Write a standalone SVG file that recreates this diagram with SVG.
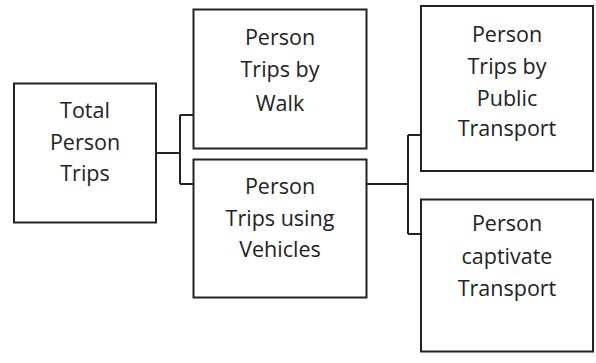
<svg xmlns="http://www.w3.org/2000/svg" width="596" height="363" viewBox="0 0 596 363">
<style>
.box{fill:#fff;stroke:#222;stroke-width:2}
.lbl{font-family:"Open Sans","Noto Sans",sans-serif;font-size:21.5px;fill:#222;text-anchor:middle}
.con{fill:none;stroke:#222;stroke-width:2}
</style>
<rect width="596" height="363" fill="#fff"/>
<g id="connectors">
<path class="con" d="M156,153 H180 M180,115 V184 M180,115 H193 M180,184 H193"/>
<path class="con" d="M367,184 H408 M408,135 V234 M408,135 H421 M408,234 H421"/>
</g>
<g id="total">
<rect class="box" x="14" y="83.5" width="142" height="139"/>
<text class="lbl" x="85" y="118">Total</text>
<text class="lbl" x="85" y="150">Person</text>
<text class="lbl" x="85" y="181">Trips</text>
</g>
<g id="walk">
<rect class="box" x="193.5" y="9.5" width="173" height="139"/>
<text class="lbl" x="280" y="45">Person</text>
<text class="lbl" x="280" y="77">Trips by</text>
<text class="lbl" x="280" y="111">Walk</text>
</g>
<g id="vehicles">
<rect class="box" x="193.5" y="159.5" width="173" height="138"/>
<text class="lbl" x="280" y="194">Person</text>
<text class="lbl" x="280" y="226">Trips using</text>
<text class="lbl" x="280" y="257">Vehicles</text>
</g>
<g id="public">
<rect class="box" x="421" y="6" width="172" height="165"/>
<text class="lbl" x="507" y="42">Person</text>
<text class="lbl" x="507" y="74">Trips by</text>
<text class="lbl" x="507" y="106">Public</text>
<text class="lbl" x="507" y="136">Transport</text>
</g>
<g id="captivate">
<rect class="box" x="421" y="199.5" width="172" height="152"/>
<text class="lbl" x="507" y="231">Person</text>
<text class="lbl" x="507" y="264">captivate</text>
<text class="lbl" x="507" y="296">Transport</text>
</g>
</svg>
